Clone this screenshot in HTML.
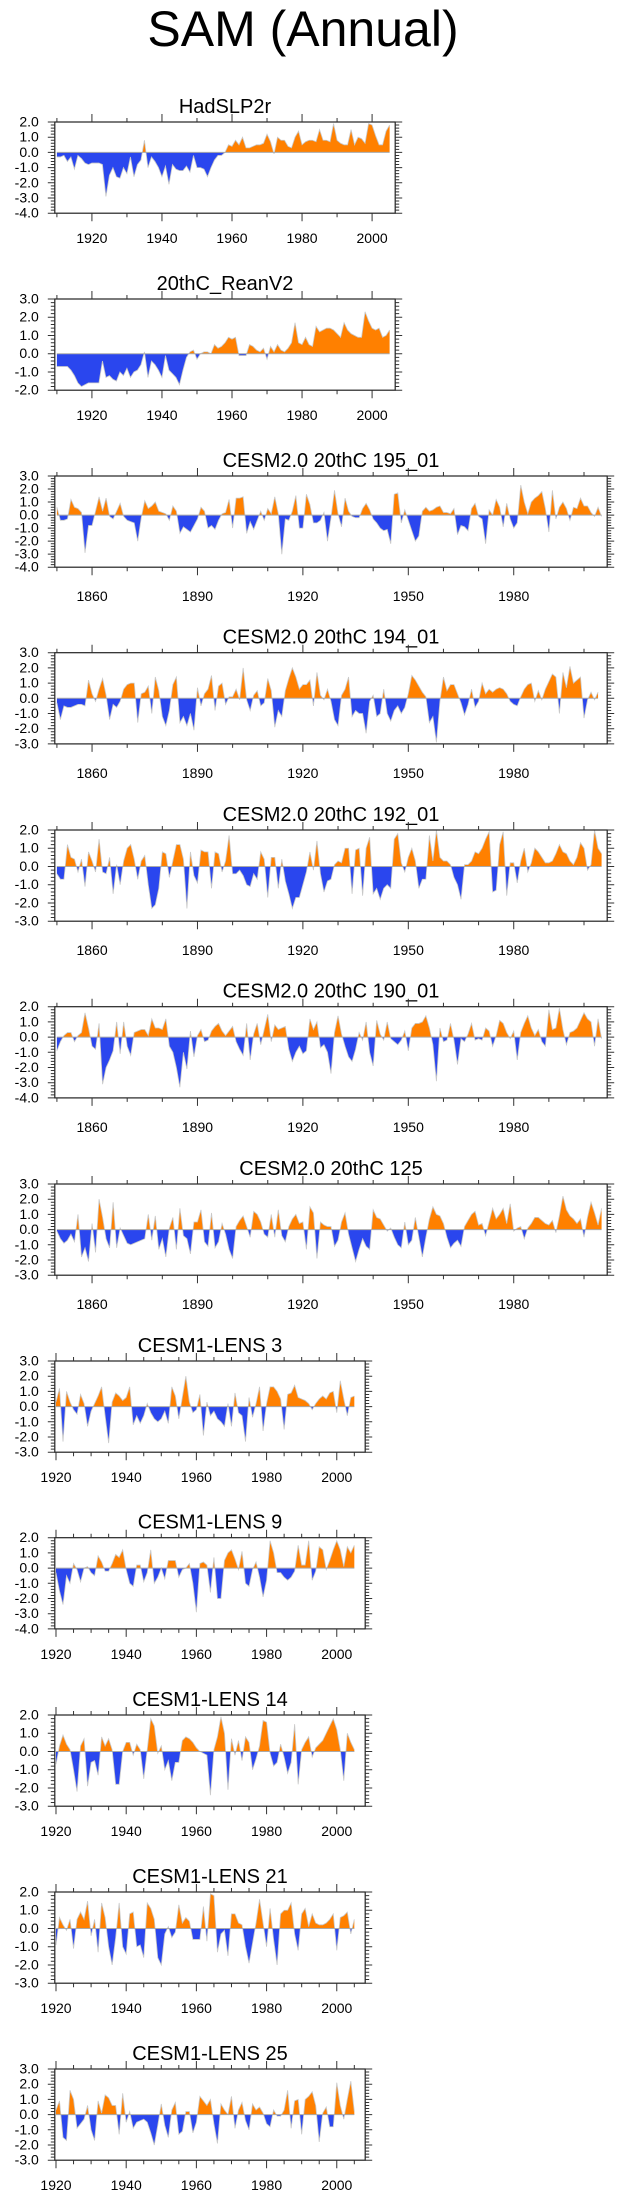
<!DOCTYPE html>
<html><head><meta charset="utf-8"><style>
html,body{margin:0;padding:0;background:#fff;}
svg{display:block;font-family:"Liberation Sans",Arial,sans-serif;}
</style></head><body>
<svg id="chart" width="623" height="2198" viewBox="0 0 623 2198" xmlns="http://www.w3.org/2000/svg">
<text x="303" y="46" font-size="50" text-anchor="middle">SAM (Annual)</text>
</svg>
<script>
// ---- data (annual SAM index) ----
const hadStart = 1910;
const hadslp = [-0.3,-0.3,-0.2,-0.6,-0.3,-1.1,-0.2,-0.4,-0.7,-0.8,-0.7,-0.7,-0.7,-0.8,-2.9,-1.5,-1.0,-1.6,-1.7,-1.0,-1.4,-0.3,-1.6,-0.8,-0.5,0.8,-1.0,-0.3,-0.6,-1.0,-1.6,-0.9,-2.1,-0.8,-1.1,-1.2,-1.2,-0.9,-1.3,-0.2,-1.0,-1.0,-1.1,-1.6,-1.0,-0.5,-0.2,-0.2,0.0,0.5,0.4,0.8,0.5,1.0,0.3,0.3,0.4,0.5,0.5,0.6,1.2,0.7,-0.1,1.0,0.8,0.8,0.4,0.3,1.0,1.4,0.5,0.7,0.8,0.8,0.7,1.5,0.8,0.8,0.7,1.9,0.8,0.6,0.5,0.5,1.5,0.5,1.0,0.9,0.6,1.9,1.8,1.1,0.5,0.5,1.4,1.8];
const rean = [-0.7,-0.7,-0.7,-0.7,-0.9,-1.2,-1.6,-1.8,-1.7,-1.6,-1.6,-1.6,-1.6,-0.4,-1.3,-1.2,-1.4,-1.5,-1.0,-1.2,-0.8,-1.3,-1.0,-0.9,-0.6,0.1,-1.3,-0.4,-0.6,-0.9,-1.3,-0.1,-0.9,-1.1,-1.3,-1.7,-0.9,-0.2,0.1,0.2,-0.3,0.0,0.1,0.1,0.0,0.5,0.3,0.4,0.6,0.9,0.8,0.9,-0.1,-0.1,-0.1,0.5,0.4,0.2,0.1,0.3,-0.3,0.4,0.1,0.5,0.2,0.1,0.3,0.6,1.7,0.6,0.5,0.9,0.5,0.4,1.5,1.2,1.3,1.4,1.4,1.3,1.1,0.9,1.7,1.3,1.1,1.0,0.9,0.9,2.3,1.8,1.4,1.3,1.4,0.9,1.0,1.3];
const cesmStart = 1850;
const c195 = [0.6,-0.4,-0.4,-0.3,1.2,0.6,0.5,0.2,-2.9,-0.8,-0.8,0.3,1.4,0.3,1.3,-0.1,-0.3,0.3,0.9,-0.1,-0.4,-0.5,-0.6,-2.0,-0.2,1.1,0.5,0.7,1.0,0.3,0.2,0.1,-0.4,0.7,0.3,-1.4,-0.9,-1.1,-1.3,-0.8,-0.3,0.6,0.3,-1.0,-0.8,-1.1,-0.4,0.1,0.2,1.2,-1.0,1.3,1.3,1.4,-1.4,-0.5,-1.1,-0.4,0.3,-0.4,0.5,0.1,1.4,0.1,-3.0,-0.3,-0.4,0.3,1.5,-1.0,-1.0,1.6,0.8,-0.6,-0.6,-0.4,0.2,-2.0,-0.2,1.9,0.1,-0.9,1.3,0.3,-0.1,-0.2,-0.2,0.5,0.9,0.4,-0.3,-0.6,-1.0,-1.2,-1.1,-2.2,1.6,1.7,-0.6,0.4,-0.4,-1.2,-2.0,-1.6,0.3,0.6,0.3,0.4,0.6,0.7,0.2,0.2,0.1,0.5,-1.5,-0.8,-0.9,-1.2,0.5,0.9,-0.1,-0.3,-2.2,0.4,0.0,1.2,0.6,-0.9,0.9,-0.3,-1.0,-0.6,2.3,1.0,0.1,1.0,1.3,1.5,1.8,0.5,-1.3,1.9,-0.3,0.6,1.0,0.5,-0.4,0.6,0.5,1.3,0.7,0.7,0.2,-0.1,0.6,-0.1];
const c194 = [-0.3,-1.4,-0.5,-0.6,-0.6,-0.5,-0.4,-0.4,-0.5,1.2,0.3,-0.2,0.6,1.3,0.2,-1.4,-0.4,-0.6,-0.2,0.6,0.9,1.0,1.0,-1.6,0.3,0.4,0.8,-1.0,1.4,0.5,-1.2,-1.8,-0.8,0.9,1.4,-1.6,-1.2,-1.8,-1.0,-2.1,0.7,-0.5,0.3,0.6,1.5,-0.8,0.8,1.0,-0.4,0.1,0.1,0.6,-0.1,2.0,-0.1,-0.8,0.2,0.5,-0.5,-0.3,1.3,0.5,-1.9,-0.8,-1.2,0.5,1.3,2.0,1.4,0.6,0.9,0.9,1.2,-0.5,1.7,0.2,-0.1,0.6,-0.2,-1.4,-1.8,0.2,0.6,1.4,-1.2,-0.8,-1.0,-1.0,-2.3,-0.2,0.2,-1.2,-1.0,0.6,-1.0,-1.5,-0.8,-0.5,-1.0,-0.6,0.3,1.5,1.2,0.8,0.4,0.1,-1.6,-1.2,-2.9,-0.2,1.4,0.5,0.9,0.9,0.3,-0.3,-1.1,-0.4,0.6,-0.6,-0.2,1.0,0.3,0.6,0.4,0.6,0.7,0.6,0.3,-0.2,-0.4,-0.5,0.1,0.6,0.9,1.0,-0.2,0.5,-0.1,0.6,1.1,1.6,1.4,-1.0,1.7,0.7,2.1,1.0,1.2,1.4,-1.3,-0.1,0.4,-0.1,0.4];
const c192 = [-0.4,-0.7,-0.7,1.2,0.5,0.4,-0.3,0.4,-1.1,0.8,0.3,-0.3,1.5,-0.3,-0.4,0.5,-1.5,0.1,-1.0,0.3,1.0,1.2,0.4,-0.7,0.3,0.6,-1.0,-2.3,-2.1,-1.2,0.8,0.7,-0.6,0.3,1.2,1.2,0.4,-2.3,0.8,-0.5,-0.9,0.9,0.8,0.8,-1.2,0.8,0.7,-0.3,0.3,1.7,-0.4,-0.4,-0.2,-0.5,-1.0,-1.1,-0.4,-0.7,0.8,0.4,-1.7,0.5,0.5,-1.2,0.4,-0.8,-1.5,-2.3,-1.7,-1.7,-1.0,-0.3,0.8,-0.2,1.4,-0.4,-1.4,-0.8,-0.7,0.1,0.3,0.2,1.0,1.0,-1.5,0.9,1.0,-1.6,1.0,1.6,-1.5,-1.2,-1.8,-1.2,-1.0,-1.2,1.5,1.8,0.2,-0.3,0.5,1.0,0.3,-1.2,-0.7,-0.7,1.7,0.3,2.0,0.5,0.3,0.3,0.1,-0.6,-1.0,-1.8,0.1,0.1,0.3,0.8,0.7,1.0,1.5,1.9,-1.4,-1.3,1.2,1.9,-1.6,0.2,0.2,-0.9,0.3,1.0,-0.3,0.2,1.0,0.8,0.5,0.2,0.2,0.3,0.7,1.2,0.8,0.7,0.3,0.1,0.5,1.3,1.0,-0.2,0.1,2.0,1.0,0.7];
const c190 = [-0.9,-0.3,0.1,0.3,0.3,-0.3,0.1,0.3,1.6,0.6,-0.6,-0.8,0.9,-3.1,-2.0,-1.5,-0.9,1.0,-1.1,1.0,-0.6,-1.2,0.3,0.4,0.5,0.5,0.1,1.2,0.6,0.6,0.5,1.2,-0.6,-1.0,-2.0,-3.3,-1.0,-2.1,0.4,-1.3,0.1,0.5,-0.3,-0.2,0.4,0.7,0.9,0.4,0.1,0.4,0.7,-0.3,-0.8,-1.2,0.9,-1.5,0.2,0.9,-0.5,0.5,1.5,-0.3,0.8,0.5,0.6,0.7,-0.8,-1.6,-1.0,-0.6,-1.1,-0.9,1.2,0.5,1.0,-0.7,-0.5,-1.0,-2.4,0.3,1.4,0.2,-0.6,-1.3,-1.6,-0.8,0.3,-0.2,1.0,-1.0,-1.9,1.1,0.2,-0.2,1.0,-0.1,-0.3,-0.5,-0.2,0.4,-0.9,0.6,0.9,0.9,1.0,1.4,0.6,-0.5,-2.9,0.6,-0.3,-0.2,0.9,-0.2,-1.8,-0.1,-0.3,0.2,0.9,-0.2,-0.1,-0.2,0.6,0.4,-0.6,0.1,1.1,0.9,0.3,-0.1,0.4,-1.5,0.3,0.9,1.4,0.6,0.1,0.5,-0.3,-0.6,1.8,0.5,0.6,1.9,0.5,-0.5,0.3,0.4,0.6,1.1,1.6,1.2,1.0,-0.6,1.2,-0.1];
const c125 = [-0.1,-0.6,-0.9,-0.7,-0.3,-0.8,1.0,-1.8,-1.2,-2.1,0.4,-1.5,2.0,0.8,-0.6,-1.2,1.8,-1.2,0.1,-0.4,-0.9,-1.0,-0.9,-0.8,-0.7,-0.6,1.0,-0.7,0.9,-1.3,-0.6,-1.8,0.1,0.8,-1.3,1.4,-0.4,-0.6,-1.6,0.5,0.5,1.3,-0.8,-1.1,1.1,-1.2,-0.8,0.4,-0.3,-1.3,-1.9,0.2,0.6,0.9,0.2,-0.5,1.2,1.0,0.5,-0.3,-0.5,1.0,-0.5,1.3,-0.4,-0.8,0.2,0.7,1.0,0.4,0.5,-1.3,1.5,1.1,-1.9,0.5,0.3,0.2,0.2,-1.1,-0.7,0.5,1.1,-0.3,-1.2,-2.1,-1.3,-0.6,-1.1,-1.3,1.3,0.8,0.7,0.3,-0.1,0.1,-0.5,-1.0,-1.2,0.5,-1.0,-0.7,0.8,-0.5,-1.8,-0.5,0.7,1.5,1.0,0.9,0.4,-0.5,-1.2,-0.9,-0.7,-1.1,0.2,0.6,1.0,1.2,0.3,0.4,-0.4,0.5,1.4,0.7,1.0,1.4,0.4,1.7,-0.1,0.1,0.2,-0.6,0.1,0.4,0.8,0.8,0.6,0.4,0.3,0.6,-0.2,0.9,2.2,1.3,0.9,0.7,0.4,0.7,-0.5,0.8,1.8,1.1,0.3,1.4];
const lensStart = 1920;
const l3 = [0.3,1.2,-2.3,1.0,0.3,-0.2,-0.5,0.8,0.2,-1.3,-0.3,0.2,0.7,1.3,-0.6,-2.4,0.3,0.9,0.7,0.4,0.6,1.3,-1.2,-0.6,-1.1,-0.6,0.2,-0.4,-0.8,-1.0,-0.8,-0.3,-1.1,1.3,0.7,-0.8,0.6,2.0,0.3,-0.4,-0.2,0.8,-1.9,0.3,-0.6,-0.3,-0.8,-1.0,-1.3,0.2,-1.3,0.9,-0.4,-0.6,-2.3,0.6,-0.7,0.2,1.3,-1.6,0.2,1.3,1.3,1.0,0.5,-1.5,0.8,0.9,1.4,0.6,0.5,0.4,0.2,-0.2,0.2,0.5,0.7,0.5,0.9,1.0,-0.4,1.7,0.5,-0.6,0.6,0.7];
const l9 = [-0.3,-1.5,-2.4,-0.5,-1.0,0.3,-0.1,-0.9,0.0,0.1,-0.3,-0.5,0.8,0.4,-0.2,-0.2,0.3,0.9,0.7,1.2,-0.1,-1.0,-1.2,0.2,0.2,-0.9,-0.3,1.2,-1.0,-0.6,0.0,-0.7,0.5,0.5,0.5,-0.6,-0.1,0.0,0.3,-1.0,-2.9,0.3,0.4,0.2,-1.6,0.7,-2.0,-2.0,0.5,1.0,1.2,0.6,-0.1,1.1,-1.0,-1.2,-0.1,0.4,-0.6,-1.9,-0.8,1.8,1.0,-0.3,-0.3,-0.6,-0.8,-0.6,-0.2,1.5,0.2,0.2,1.8,-0.8,-0.2,1.4,1.2,-0.1,0.5,1.2,1.8,1.2,0.1,1.4,1.0,1.5];
const l14 = [-0.7,0.3,0.9,0.4,0.1,-1.0,-2.2,0.3,0.7,-1.9,-0.6,-0.5,-1.3,0.8,0.3,0.7,0.1,-1.8,-1.8,0.0,0.5,0.5,-0.2,0.4,0.1,-1.5,0.1,1.8,1.4,-0.1,0.3,-1.0,-0.5,-1.6,-0.6,-0.6,0.6,0.8,0.7,0.5,0.2,0.0,-0.1,-0.2,-2.4,0.1,0.8,1.9,1.0,-2.1,0.7,-0.2,0.6,-0.5,0.8,0.5,-1.0,-0.4,0.3,1.7,1.6,-0.1,-0.8,-0.6,0.4,-0.3,-1.2,-0.6,1.5,-1.8,0.1,0.5,0.8,-0.3,0.2,0.4,0.6,1.0,1.4,1.8,1.2,0.1,-1.6,1.0,0.5,0.1];
const l21 = [-0.9,0.6,0.2,-0.1,0.5,-1.1,0.5,0.9,0.5,1.5,-0.4,0.5,-1.3,1.4,0.6,-1.0,-2.0,-0.5,1.4,-1.0,-1.4,0.8,0.9,-1.0,-0.9,-1.6,1.4,1.1,0.5,-1.6,-2.0,-0.3,0.1,-0.5,-0.2,1.3,0.3,0.6,0.4,-0.6,-0.6,-0.6,1.2,-0.7,1.9,1.8,-1.3,-0.3,-0.1,-1.5,0.8,0.8,0.3,0.2,-1.0,-1.9,-0.8,0.3,1.6,0.3,-1.0,1.1,-0.6,-2.0,0.8,1.0,1.0,1.4,-0.3,-1.2,0.8,1.1,0.1,0.8,0.3,0.2,0.2,0.3,0.5,0.8,-1.2,0.6,0.7,0.9,-0.3,0.5];
const l25 = [0.3,0.9,-1.5,-1.7,1.6,1.0,-0.9,-0.6,-0.3,0.6,-1.0,-1.7,0.9,0.1,1.3,1.1,0.6,0.6,-1.3,1.4,-0.5,0.2,-0.9,-0.5,-0.4,-0.3,-0.5,-1.2,-2.0,-0.7,0.7,-0.7,-1.5,0.3,0.8,-1.3,-1.1,0.2,0.2,-1.2,-0.5,1.2,0.9,0.6,1.0,-0.6,-1.9,0.7,0.3,0.0,1.2,-0.9,0.3,0.8,-0.4,-1.0,0.7,0.3,0.5,0.1,-0.6,-0.8,0.3,-0.1,-0.1,0.3,1.6,-0.9,0.9,1.0,-1.3,1.0,1.2,1.5,0.6,-1.8,0.1,0.5,-0.8,-0.8,2.1,0.6,-0.3,1.0,2.2,0.2];
// ---- panel settings ----
const panelTitles = ["HadSLP2r","20thC_ReanV2","CESM2.0 20thC 195_01","CESM2.0 20thC 194_01","CESM2.0 20thC 192_01","CESM2.0 20thC 190_01","CESM2.0 20thC 125","CESM1-LENS 3","CESM1-LENS 9","CESM1-LENS 14","CESM1-LENS 21","CESM1-LENS 25"];
const panelSeries = [hadslp,rean,c195,c194,c192,c190,c125,l3,l9,l14,l21,l25];
const panelStarts = [hadStart,hadStart,cesmStart,cesmStart,cesmStart,cesmStart,cesmStart,lensStart,lensStart,lensStart,lensStart,lensStart];
const panelYmin = [-4,-2,-4,-3,-3,-4,-3,-3,-4,-3,-3,-3];
const panelYmax = [2,3,3,3,2,2,3,3,2,2,2,3];

const NS = "http://www.w3.org/2000/svg";
const svg = document.getElementById("chart");
function mk(tag, attrs, parent){const e=document.createElementNS(NS,tag);for(const k in attrs)e.setAttribute(k,attrs[k]);(parent||svg).appendChild(e);return e;}

const tops = [122,299,476,652.7,830,1006.7,1184,1361,1537.7,1715,1892,2069];
const PH = 91.2;

panelTitles.forEach((title,p)=>{
  const kind = p<2 ? "obs" : (p<7 ? "cesm2" : "lens");
  const L = 54.8;
  const R = kind==="obs" ? 395.2 : (kind==="cesm2" ? 607.2 : 365.2);
  const xmin = kind==="obs" ? 1909.4 : (kind==="cesm2" ? 1849.4 : 1919.66);
  const xmax = kind==="obs" ? 2006.6 : (kind==="cesm2" ? 2006.6 : 2008.1);
  const T = tops[p], B = T+PH;
  const ymin = panelYmin[p], ymax = panelYmax[p];
  const sx = v => L + (v-xmin)/(xmax-xmin)*(R-L);
  const sy = v => T + (ymax-v)/(ymax-ymin)*(B-T);
  const g = mk("g",{});
  
  

  const t = mk("text",{x:(L+R)/2,y:T-9,"font-size":20,"text-anchor":"middle"},g);
  t.textContent = title;
  
  

  const vals = panelSeries[p], start = panelStarts[p];
  const pts = [];
  for(let i=0;i<vals.length;i++){
    const x=start+i, v=vals[i];
    if(i>0){const pv=vals[i-1]; if((pv>0&&v<0)||(pv<0&&v>0)){const f=pv/(pv-v); pts.push([x-1+f,0]);}}
    pts.push([x,v]);
  }
  const x0=pts[0][0], x1=pts[pts.length-1][0];
  let pos=`M${sx(x0)},${sy(0)}`, neg=`M${sx(x0)},${sy(0)}`, line="";
  pts.forEach((q,i)=>{
    pos+=`L${sx(q[0]).toFixed(2)},${sy(Math.max(q[1],0)).toFixed(2)}`;
    neg+=`L${sx(q[0]).toFixed(2)},${sy(Math.min(q[1],0)).toFixed(2)}`;
    line+=(i?"L":"M")+sx(q[0]).toFixed(2)+","+sy(q[1]).toFixed(2);
  });
  pos+=`L${sx(x1)},${sy(0)}Z`; neg+=`L${sx(x1)},${sy(0)}Z`;
  const pp = mk("path",{d:pos,fill:"#ff8000"},g);
  
  
  const np = mk("path",{d:neg,fill:"#2a46ee"},g);
  
  
  const lp = mk("path",{d:line,fill:"none",stroke:"#c8c8c8","stroke-width":0.8},g);
  
  
  const zl = mk("line",{x1:sx(x0),x2:sx(x1),y1:sy(0),y2:sy(0),stroke:"#aaa","stroke-width":1},g);
  
  

  const fr = mk("rect",{x:L,y:T,width:R-L,height:B-T,fill:"none",stroke:"#222","stroke-width":1.2},g);
  
  

  let tk="";
  for(let k=Math.round(ymin*5);k<=Math.round(ymax*5);k++){
    const v=k/5, y=sy(v), major=(k%5===0), len=major?7:4;
    tk+=`M${L},${y}h${-len}M${R},${y}h${len}`;
    if(major){
      const lab = mk("text",{x:L-16,y:y+4.5,"font-size":14,"text-anchor":"end"},g);
      lab.textContent = v.toFixed(1);
      
      
    }
  }
  const majStep = kind==="cesm2"?30:20, minStep = kind==="lens"?5:10;
  const majBase = kind==="cesm2"?1860:1920;
  for(let yr=Math.ceil(xmin/minStep)*minStep; yr<=xmax; yr+=minStep){
    const major = (yr-majBase)%majStep===0 && yr>=majBase;
    const x=sx(yr), len=major?8:4;
    tk+=`M${x},${B}v${len}M${x},${T}v${-len}`;
    if(major){
      const lab = mk("text",{x:x,y:B+(kind==="cesm2"?34:30),"font-size":14,"text-anchor":"middle"},g);
      lab.textContent = String(yr);
      
      
    }
  }
  const tp = mk("path",{d:tk,stroke:"#333","stroke-width":1,fill:"none"},g);
  
  
});
</script>
</body></html>
